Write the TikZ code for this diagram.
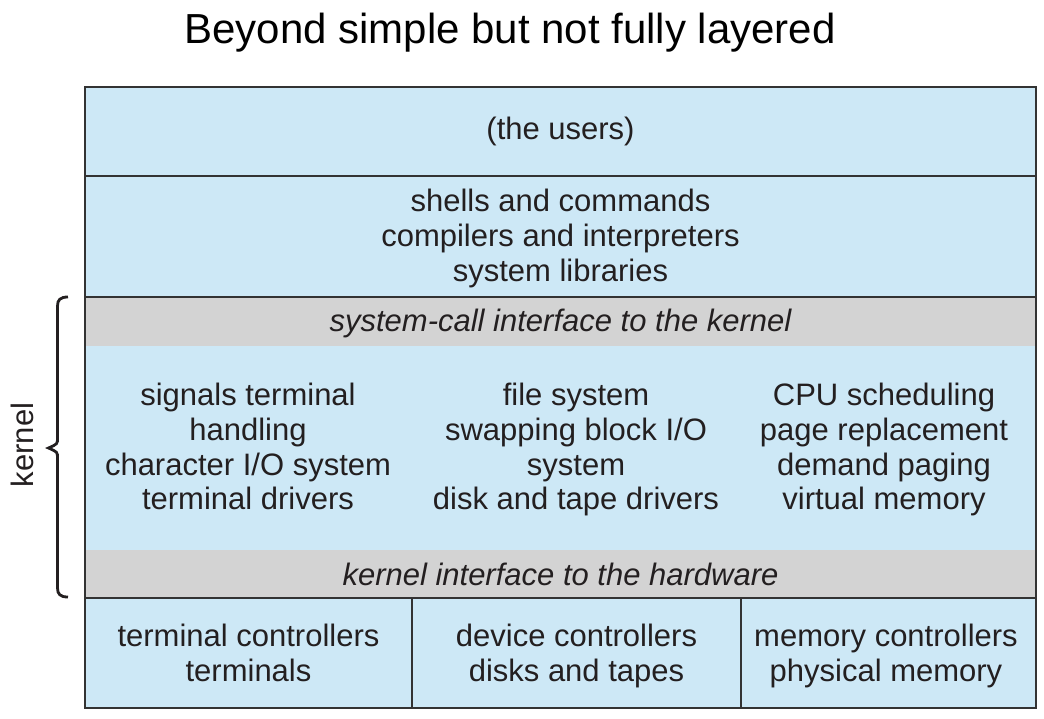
\documentclass[tikz,border=0pt]{standalone}
\usepackage{fontspec}
\setmainfont{Liberation Sans}
\usetikzlibrary{positioning}
\definecolor{layerblue}{HTML}{CDE8F6}
\definecolor{bandgray}{HTML}{D3D3D3}
\definecolor{edgegray}{HTML}{333333}
\definecolor{inkgray}{HTML}{231F20}
\tikzstyle{layer}=[draw=edgegray, fill=layerblue, line width=1.6pt, inner sep=0pt, align=center, text=inkgray]
\tikzstyle{band}=[fill=bandgray, inner sep=0pt, text=inkgray, font=\fontsize{31}{34.7}\selectfont\itshape]
\tikzstyle{plainlayer}=[fill=layerblue, inner sep=0pt]
\tikzstyle{blocktext}=[align=center, text=inkgray, inner sep=0pt]
\tikzstyle{bracePen}=[line width=2.8pt, draw=inkgray]

\begin{document}
\begin{tikzpicture}[x=1pt, y=-1pt, every node/.style={font=\fontsize{31}{34.7}\selectfont}]
    \useasboundingbox (0,0) rectangle (1044,718);

    \node[text=black, font=\fontsize{42}{48}\selectfont] (title) at (510,33) {Beyond simple but not fully layered};

    % upper layers
    \node[layer, minimum width=951pt, minimum height=89pt] (users) at (560.5,131.5) {(the users)};
    \node[layer, minimum width=951pt, minimum height=121pt] (shells) at (560.5,236.5) {};
    \node[blocktext] (shellstext) at (560.5,239.5)
        {\strut shells and commands\\compilers and interpreters\\system libraries\strut};

    % kernel
    \node[band, minimum width=951pt, minimum height=49pt] (sysc) at (560.5,321.5) {};
    \node[blocktext, font=\fontsize{31}{34.7}\selectfont\itshape] (sysctext) at (560.5,323.5) {system-call interface to the kernel};
    \node[plainlayer, minimum width=951pt, minimum height=204pt] (kmid) at (560.5,448) {};
    \node[band, minimum width=951pt, minimum height=48pt] (hwi) at (560.5,574) {kernel interface to the hardware};
    \draw[edgegray, line width=1.6pt] (sysc.north west) rectangle (hwi.south east);

    \node[blocktext] (signals) at (248,451)
        {\strut signals terminal\\handling\\character I/O system\\terminal drivers\strut};
    \node[blocktext] (files) at (576,451)
        {\strut file system\\swapping block I/O\\system\\disk and tape drivers\strut};
    \node[blocktext] (cpu) at (884,451)
        {\strut CPU scheduling\\page replacement\\demand paging\\virtual memory\strut};

    % hardware
    \node[layer, minimum width=327pt, minimum height=110pt] (term) at (248.5,653) {};
    \node[layer, minimum width=329pt, minimum height=110pt] (dev) at (576.5,653) {};
    \node[layer, minimum width=295pt, minimum height=110pt] (mem) at (888.5,653) {};
    \node[blocktext] (termtext) at (248.5,657) {\strut terminal controllers\\terminals\strut};
    \node[blocktext] (devtext) at (576.5,657) {\strut device controllers\\disks and tapes\strut};
    \node[blocktext] (memtext) at (886,657) {\strut memory controllers\\physical memory\strut};

    % brace
    \coordinate (ktop) at (68,297);
    \coordinate (ktip) at (48.5,448);
    \coordinate (kbot) at (68,597);
    \draw[bracePen] (ktop) .. controls (60,297) and (57.5,300) .. (57.5,306) -- (57.5,438)
        .. controls (57.5,444) .. (ktip) .. controls (57.5,452) .. (57.5,458) -- (57.5,588)
        .. controls (57.5,594) and (60,597) .. (kbot);
    \node[rotate=90, text=inkgray] (klabel) at (22,445) {kernel};
\end{tikzpicture}
\end{document}
